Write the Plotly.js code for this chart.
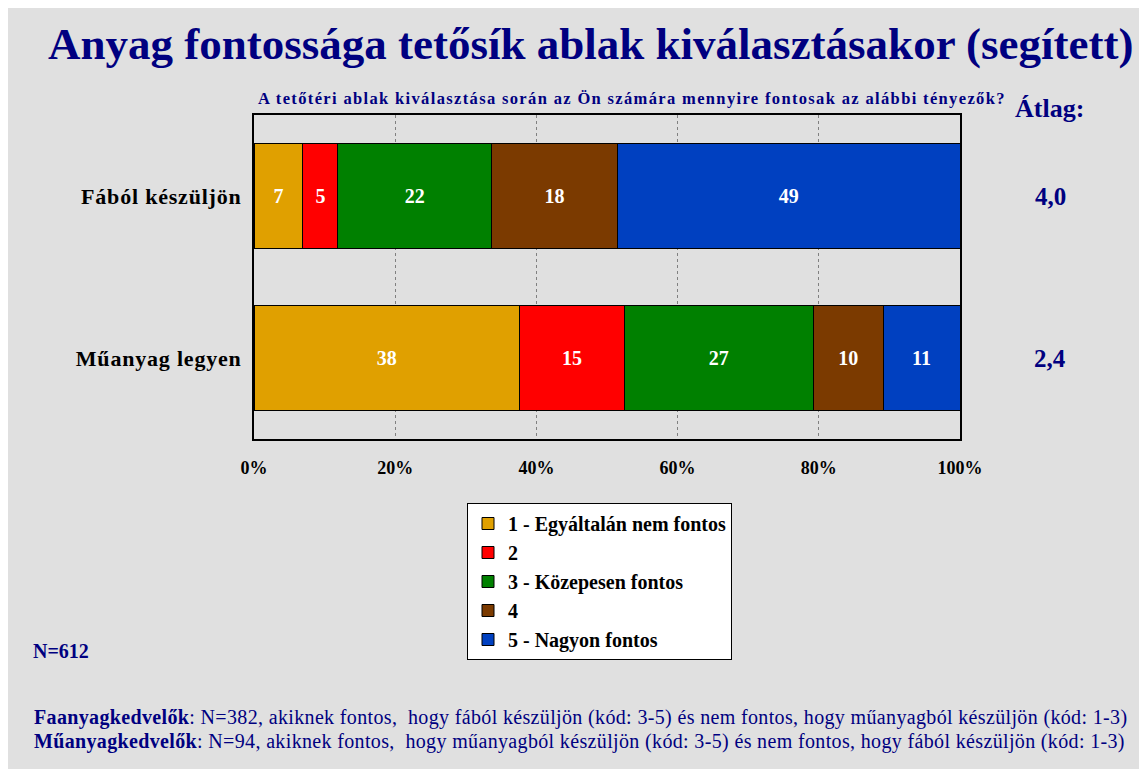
<!DOCTYPE html>
<html>
<head>
<meta charset="utf-8">
<script src="https://cdn.plot.ly/plotly-3.0.1.min.js"></script>
<style>
html,body{margin:0;padding:0;background:#fff;}
#wrap{position:relative;width:1145px;height:769px;overflow:hidden;}
#chart{width:1145px;height:769px;}
#edge{position:absolute;left:1139px;top:0;width:6px;height:769px;background:#fff;}
</style>
</head>
<body>
<div id="wrap"><div id="chart"></div><div id="edge"></div></div>
<script>
const categories = ["Fából készüljön", "Műanyag legyen"];
const seriesNames = ["1 - Egyáltalán nem fontos", "2", "3 - Közepesen fontos", "4", "5 - Nagyon fontos"];
const values1 = [7, 38];
const values2 = [5, 15];
const values3 = [22, 27];
const values4 = [18, 10];
const values5 = [49, 11];
const averages = ["4,0", "2,4"];
const colors = ["#e0a000", "#ff0000", "#008000", "#7b3a00", "#0040c0"];
const tickVals = [0, 20, 40, 60, 80, 100];
const tickText = ["0%", "20%", "40%", "60%", "80%", "100%"];

const serif = "Liberation Serif, Times New Roman, serif";
const navy = "#000080";
const allValues = [values1, values2, values3, values4, values5];

const traces = allValues.map((vals, i) => ({
  type: "bar",
  orientation: "h",
  name: seriesNames[i],
  y: categories,
  x: vals,
  text: vals.map(String),
  textposition: "inside",
  insidetextanchor: "middle",
  textangle: 0,
  textfont: {family: serif, size: 20, color: "#ffffff", weight: "bold"},
  marker: {color: colors[i], line: {color: "#000000", width: 1}},
  width: 0.65,
  hoverinfo: "skip"
}));

// plot area in pixels
const L = 254, R = 960, T = 115, B = 439, W = 1145, H = 769;
const px = x => (x - L) / (R - L);
const py = y => (B - y) / (B - T);

const annotations = [
  {text: "<b>Anyag fontossága tetősík ablak kiválasztásakor (segített)</b>", x: px(46), y: py(44), xref: "paper", yref: "paper", xanchor: "left", yanchor: "middle", align: "left", showarrow: false, font: {family: serif, size: 45, color: navy}},
  {text: "<b>A tetőtéri ablak kiválasztása során az Ön számára mennyire fontosak az alábbi tényezők?</b>", x: px(256), y: py(98), xref: "paper", yref: "paper", xanchor: "left", yanchor: "middle", align: "left", showarrow: false, font: {family: serif, size: 16.5, color: navy}},
  {text: "<b>Átlag:</b>", x: px(1049), y: py(109), xref: "paper", yref: "paper", xanchor: "center", yanchor: "middle", showarrow: false, font: {family: serif, size: 26, color: navy}},
  {text: "<b>N=612</b>", x: px(31), y: py(651), xref: "paper", yref: "paper", xanchor: "left", yanchor: "middle", align: "left", showarrow: false, font: {family: serif, size: 20, color: navy}},
  {text: "<b>Faanyagkedvelők</b>: N=382, akiknek fontos,  hogy fából készüljön (kód: 3-5) és nem fontos, hogy műanyagból készüljön (kód: 1-3)", x: px(32), y: py(717), xref: "paper", yref: "paper", xanchor: "left", yanchor: "middle", align: "left", showarrow: false, font: {family: serif, size: 20, color: navy}},
  {text: "<b>Műanyagkedvelők</b>: N=94, akiknek fontos,  hogy műanyagból készüljön (kód: 3-5) és nem fontos, hogy fából készüljön (kód: 1-3)", x: px(32), y: py(741), xref: "paper", yref: "paper", xanchor: "left", yanchor: "middle", align: "left", showarrow: false, font: {family: serif, size: 20, color: navy}}
];
categories.forEach((c, i) => {
  annotations.push({text: "<b>" + averages[i] + "</b>", x: px(1050), y: c, xref: "paper", yref: "y", xanchor: "center", yanchor: "middle", showarrow: false, font: {family: serif, size: 25, color: navy}});
});

const layout = {
  width: W, height: H,
  margin: {l: L, r: W - R, t: T, b: H - B, pad: 0},
  paper_bgcolor: "#ffffff",
  plot_bgcolor: "#ffffff",
  barmode: "stack",
  barnorm: "percent",
  showlegend: true,
  legend: {
    x: px(467), y: py(503), xanchor: "left", yanchor: "top",
    bgcolor: "#ffffff", bordercolor: "#000000", borderwidth: 1,
    font: {family: serif, size: 20, color: "#000000", weight: "bold"},
    traceorder: "normal", itemwidth: 30
  },
  xaxis: {
    range: [0, 100], tickvals: tickVals, ticktext: tickText,
    showgrid: true, gridcolor: "#808080", griddash: "dot", gridwidth: 1,
    zeroline: false, showline: true, mirror: true, linecolor: "#000000", linewidth: 2,
    ticks: "", ticklabelstandoff: 11,
    tickfont: {family: serif, size: 18, color: "#000000", weight: "bold"},
    fixedrange: true
  },
  yaxis: {
    categoryorder: "array", categoryarray: categories,
    range: [1.5, -0.5], autorange: false,
    showgrid: false, zeroline: false, showline: true, mirror: true, linecolor: "#000000", linewidth: 2,
    ticks: "", ticklabelstandoff: 6,
    tickfont: {family: serif, size: 22, color: "#000000", weight: "bold"},
    fixedrange: true
  },
  shapes: [
    {type: "rect", xref: "paper", yref: "paper", x0: px(8), x1: px(1139), y0: py(8), y1: py(769), fillcolor: "#e0e0e0", line: {width: 0}, layer: "below"}
  ],
  annotations: annotations
};

Plotly.newPlot("chart", traces, layout, {staticPlot: true, displayModeBar: false}).then(gd => {
  const spacing = {1: "1.35px", 4: "0.35px", 5: "0.35px"};
  Object.keys(spacing).forEach(k => {
    gd.querySelectorAll('g.annotation[data-index="' + k + '"] text').forEach(t => { t.style.letterSpacing = spacing[k]; });
  });
  gd.querySelectorAll('.yaxislayer-above text, .yaxislayer-below text').forEach(t => { t.style.letterSpacing = "0.8px"; });
});
</script>
</body>
</html>
